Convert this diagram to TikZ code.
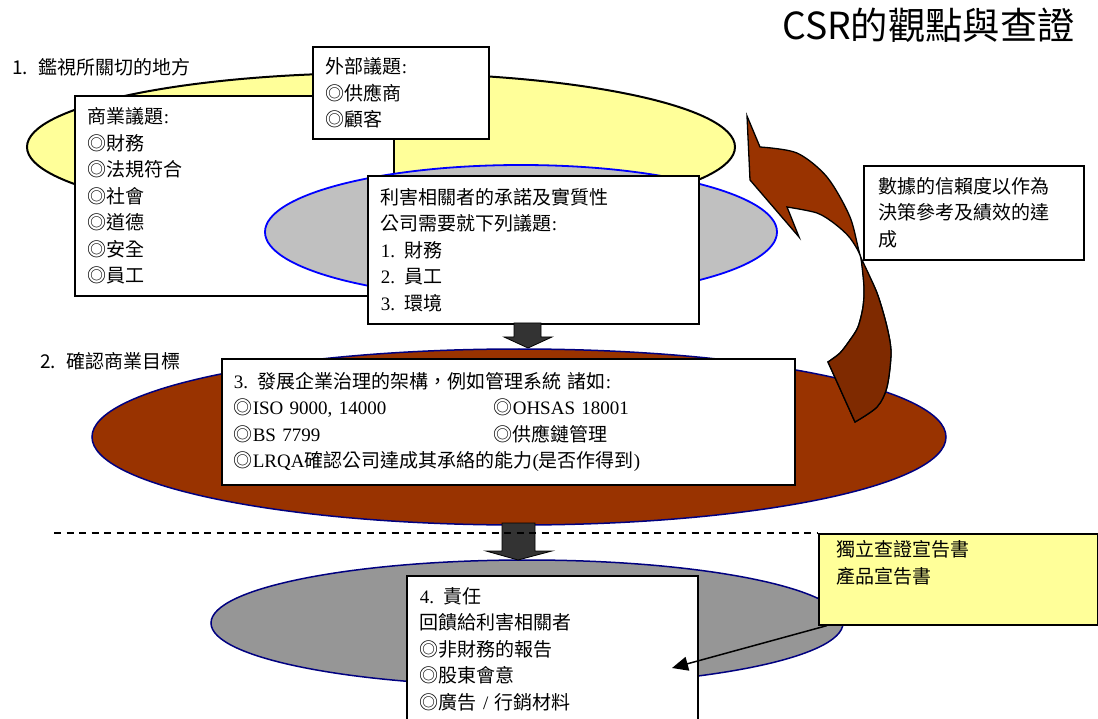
\documentclass[tikz,border=0pt]{standalone}
\usepackage{fontspec}
\setmainfont{Noto Sans CJK TC}
\newfontfamily\cjk{Noto Sans CJK TC}
\newfontfamily\lat{Liberation Serif}
\usetikzlibrary{shapes.geometric,arrows.meta,calc}
\newcommand\Lt[1]{{\lat #1}}
\definecolor{ylw}{HTML}{FFFF99}
\definecolor{grayA}{HTML}{C0C0C0}
\definecolor{grayB}{HTML}{969696}
\definecolor{brA}{HTML}{993300}
\definecolor{brB}{HTML}{7F2A00}
\definecolor{navyc}{HTML}{000080}
\definecolor{bluec}{HTML}{0000FF}
\definecolor{darkarr}{HTML}{333333}
\tikzset{
  txtbox/.style={draw=black, line width=1.6pt, fill=white, anchor=north west,
    inner xsep=13pt, inner ysep=0pt, align=left,
    font=\cjk\fontsize{19}{26.5}\selectfont},
  oval/.style={ellipse, inner sep=0pt},
  blockarrow/.style={fill=darkarr, draw=black, line width=0.8pt},
  lab/.style={anchor=west, inner sep=0pt, font=\cjk\fontsize{19}{24}\selectfont},
}
\begin{document}
\begin{tikzpicture}[x=1pt,y=-1pt]
\useasboundingbox (0,0) rectangle (1098,719);
\clip (0,0) rectangle (1098,719);

% top yellow ellipse
\node[oval, fill=ylw, draw=black, line width=2pt, minimum width=708pt, minimum height=148pt] (ell1) at (381,147) {};

\node[txtbox, minimum width=319pt, minimum height=200pt, text width=293pt] (biz) at (74,95)
  {商業議題\Lt{:}\\◎財務\\◎法規符合\\◎社會\\◎道德\\◎安全\\◎員工};

\node[txtbox, minimum width=176pt, minimum height=92pt, text width=150pt] (ext) at (312,46)
  {外部議題\Lt{:}\\◎供應商\\◎顧客};

% gray ellipse
\node[oval, fill=grayA, draw=bluec, line width=1.8pt, minimum width=512pt, minimum height=134pt] (ell2) at (521,232) {};

\node[txtbox, minimum width=331pt, minimum height=148pt, text width=305pt] (stake) at (367,175)
  {利害相關者的承諾及實質性\\公司需要就下列議題\Lt{:}\\\Lt{1.} 財務\\\Lt{2.} 員工\\\Lt{3.} 環境};

% arrow 1
\path[blockarrow] (514,323) -- (514,337) -- (504,337) -- (528,348) -- (552,337) -- (541,337) -- (541,323) -- cycle;

% brown ellipse
\node[oval, fill=brA, draw=navyc, line width=1.5pt, minimum width=854pt, minimum height=176pt] (ell3) at (519,437) {};

\node[txtbox, minimum width=573pt, minimum height=126pt, text width=549pt, inner xsep=12pt] (gov) at (221,358)
  {\Lt{3.} 發展企業治理的架構，例如管理系統 諸如\Lt{:}\\
   \makebox[260pt][l]{◎\Lt{ISO 9000, 14000}}◎\Lt{OHSAS 18001}\\
   \makebox[260pt][l]{◎\Lt{BS 7799}}◎供應鏈管理\\
   ◎\Lt{LRQA}確認公司達成其承絡的能力\Lt{(}是否作得到\Lt{)}};

\node[txtbox, minimum width=220pt, minimum height=94pt, text width=190pt, inner xsep=15pt] (data) at (863,165)
  {數據的信賴度以作為\\決策參考及績效的達\\成};

% curved brown arrow
\path[fill=brA, draw=black, line width=1.3pt, line join=miter]
  (747,116) -- plot[smooth, tension=0.5] coordinates {(760,147) (797,153) (827,177) (850,217) (861,258) (877,293) (887,327) (891,353) (887,387) (877,407) (855,422)}
  -- plot[smooth, tension=0.5] coordinates {(828,362) (840,353) (850,340) (858,327) (863,307) (864,287) (861,258) (850,238) (835,224) (817,213) (787,207)}
  -- (799,237) -- (750,180) -- cycle;
\path[fill=brB, draw=black, line width=1.3pt]
  (861,258) -- plot[smooth, tension=0.5] coordinates {(861,258) (877,293) (887,327) (891,353) (887,387) (877,407) (855,422)}
  -- plot[smooth, tension=0.5] coordinates {(828,362) (840,353) (850,340) (858,327) (863,307) (864,287) (861,258)} -- cycle;

% bottom gray ellipse
\node[oval, fill=grayB, draw=navyc, line width=1.5pt, minimum width=632pt, minimum height=126pt] (ell4) at (527,623) {};

% arrow 2
\path[blockarrow] (502,523) -- (502,551) -- (486,551) -- (518,560) -- (552,551) -- (535,551) -- (535,523) -- cycle;

% yellow box
\node[txtbox, fill=ylw, minimum width=279pt, minimum height=91pt, text width=243pt, inner xsep=18pt] (ybox) at (818,533)
  {獨立查證宣告書\\產品宣告書\\\strut};

% dashed line
\coordinate (dl) at (54,533);
\draw[line width=2pt, dash pattern=on 7pt off 5.5pt] (dl) -- (ybox.north west);

\node[txtbox, minimum width=291pt, minimum height=147pt, text width=265pt] (resp) at (406,575)
  {\Lt{4.} 責任\\回饋給利害相關者\\◎非財務的報告\\◎股東會意\\◎廣告 \Lt{/} 行銷材料};

\coordinate (tipc) at (672,668);
\draw[line width=1.5pt, -{Triangle[length=16pt,width=14pt]}] ([xshift=9pt]ybox.south west) -- (tipc);

% labels
\node[lab] (lab1) at (12,67) {1.\hspace{10pt}鑑視所關切的地方};
\node[lab] (lab2) at (40,361) {2.\hspace{10pt}確認商業目標};
\node[anchor=base west, inner sep=0pt, font=\cjk\fontsize{37.3}{42}\selectfont] (title) at (782,40) {CSR的觀點與查證};
\end{tikzpicture}
\end{document}
